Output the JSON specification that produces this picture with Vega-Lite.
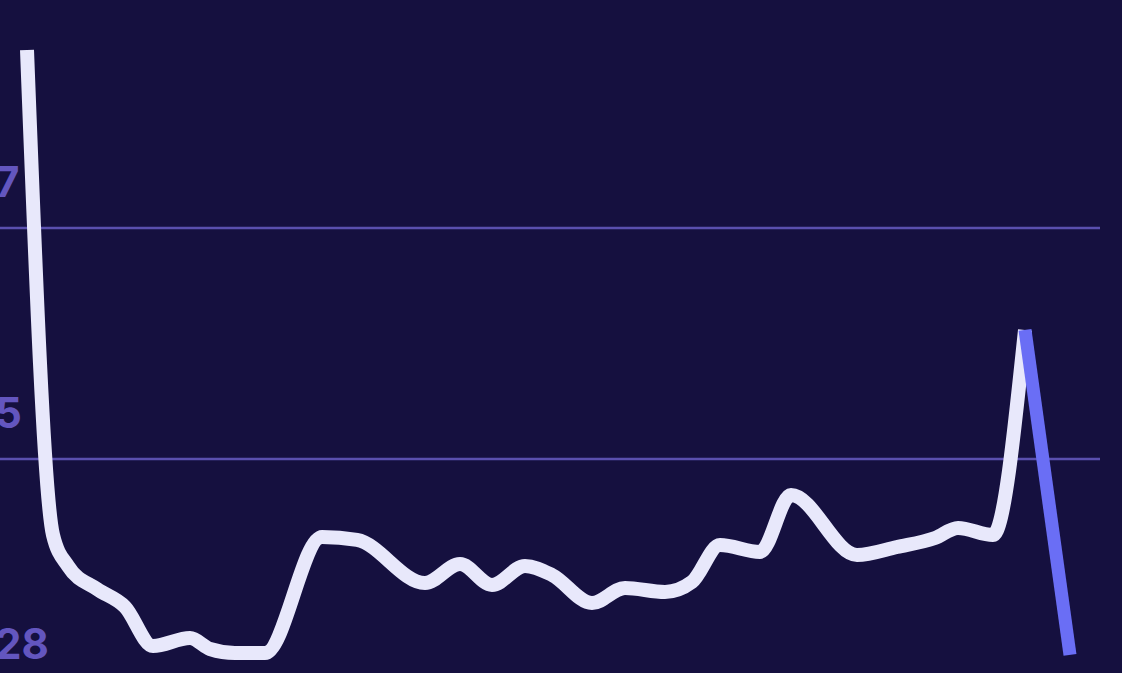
{
  "$schema": "https://vega.github.io/schema/vega-lite/v6.json",
  "width": 1122,
  "height": 673,
  "padding": 0,
  "autosize": {"type": "none"},
  "background": "#15103f",
  "config": {"view": {"stroke": null}},
  "datasets": {
    "series": [
      {"t": 27, "v": 8.541, "part": "main"},
      {"t": 53, "v": 4.342, "part": "main"},
      {"t": 68, "v": 4.074, "part": "main"},
      {"t": 97, "v": 3.874, "part": "main"},
      {"t": 125, "v": 3.719, "part": "main"},
      {"t": 153, "v": 3.381, "part": "main"},
      {"t": 190, "v": 3.45, "part": "main"},
      {"t": 210, "v": 3.355, "part": "main"},
      {"t": 235, "v": 3.32, "part": "main"},
      {"t": 265, "v": 3.32, "part": "main"},
      {"t": 322, "v": 4.325, "part": "main"},
      {"t": 357, "v": 4.299, "part": "main"},
      {"t": 425, "v": 3.926, "part": "main"},
      {"t": 460, "v": 4.091, "part": "main"},
      {"t": 492, "v": 3.909, "part": "main"},
      {"t": 525, "v": 4.074, "part": "main"},
      {"t": 552, "v": 3.996, "part": "main"},
      {"t": 592, "v": 3.753, "part": "main"},
      {"t": 625, "v": 3.883, "part": "main"},
      {"t": 665, "v": 3.848, "part": "main"},
      {"t": 692, "v": 3.935, "part": "main"},
      {"t": 720, "v": 4.255, "part": "main"},
      {"t": 760, "v": 4.195, "part": "main"},
      {"t": 791, "v": 4.688, "part": "main"},
      {"t": 857, "v": 4.169, "part": "main"},
      {"t": 897, "v": 4.238, "part": "main"},
      {"t": 935, "v": 4.316, "part": "main"},
      {"t": 958, "v": 4.403, "part": "main"},
      {"t": 993, "v": 4.342, "part": "main"},
      {"t": 1025, "v": 6.117, "part": "main"},
      {"t": 1025, "v": 6.117, "part": "last"},
      {"t": 1070, "v": 3.303, "part": "last"}
    ],
    "grid": [
      {"v": 7, "label": "7"},
      {"v": 5, "label": "5"},
      {"v": 3, "label": "28"}
    ]
  },
  "layer": [
    {
      "data": {"name": "grid"},
      "transform": [{"filter": "datum.v > 4"}],
      "mark": {"type": "rule", "color": "#5a4fae", "strokeWidth": 2.5},
      "encoding": {
        "x": {"datum": 0, "type": "quantitative", "scale": {"domain": [0, 1122], "nice": false, "zero": false}, "axis": null},
        "x2": {"datum": 1100},
        "y": {"field": "v", "type": "quantitative", "scale": {"domain": [3.147, 8.974], "nice": false, "zero": false}, "axis": null}
      }
    },
    {
      "data": {"name": "grid"},
      "mark": {
        "type": "text",
        "align": "left",
        "baseline": "alphabetic",
        "dx": -5,
        "dy": -31,
        "fontSize": 42,
        "fontWeight": "bold",
        "font": "Inter",
        "color": "#6356bf"
      },
      "encoding": {
        "x": {"datum": 0, "type": "quantitative"},
        "y": {"field": "v", "type": "quantitative"},
        "text": {"field": "label", "type": "nominal"}
      }
    },
    {
      "data": {"name": "series"},
      "transform": [{"filter": "datum.part == 'main'"}],
      "mark": {
        "type": "line",
        "interpolate": "monotone",
        "color": "#e8e8fb",
        "strokeWidth": 14,
        "strokeCap": "butt",
        "strokeJoin": "round"
      },
      "encoding": {
        "x": {"field": "t", "type": "quantitative"},
        "y": {"field": "v", "type": "quantitative"}
      }
    },
    {
      "data": {"name": "series"},
      "transform": [{"filter": "datum.part == 'last'"}],
      "mark": {
        "type": "line",
        "color": "#6a6ef5",
        "strokeWidth": 13,
        "strokeCap": "butt"
      },
      "encoding": {
        "x": {"field": "t", "type": "quantitative"},
        "y": {"field": "v", "type": "quantitative"}
      }
    }
  ]
}
